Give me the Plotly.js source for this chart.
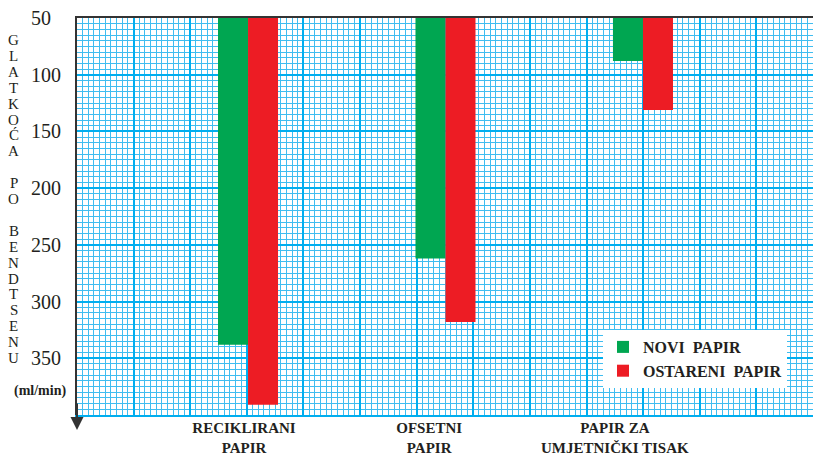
<!DOCTYPE html>
<html>
<head>
<meta charset="utf-8">
<script src="https://cdn.plot.ly/plotly-3.0.1.min.js"></script>
<style>html,body{margin:0;padding:0;background:#fff;}#chart{width:820px;height:467px;}</style>
</head>
<body>
<div id="chart"></div>
<script>
// ---- data ----
const categories = ["RECIKLIRANI<br>PAPIR", "OFSETNI<br>PAPIR", "PAPIR ZA<br>UMJETNIČKI TISAK"];
const seriesNames = ["NOVI\u00a0\u00a0PAPIR", "OSTARENI\u00a0\u00a0PAPIR"];
const noviPapir = [338, 262, 88];
const ostareniPapir = [391, 318, 131];
const yTickVals = [50, 100, 150, 200, 250, 300, 350];
const yTickText = ["50\u2007", "100", "150", "200", "250", "300", "350"];
const yTitle = "GLATKOĆA PO BENDTSENU";
const yUnit = "(ml/min)";

// ---- style ----
const serif = "'Liberation Serif', 'Times New Roman', serif";
const ink = "#231f20";
const gridBlue = "#00aeef";
const colors = ["#00a651", "#ed1c24"];

const traces = [
  {type: "bar", name: seriesNames[0], x: categories, y: noviPapir,
   marker: {color: colors[0]}, xaxis: "x", yaxis: "y", legendgroup: "a"},
  {type: "bar", name: seriesNames[1], x: categories, y: ostareniPapir,
   marker: {color: colors[1]}, xaxis: "x", yaxis: "y", legendgroup: "b"},
  // empty helper traces so the overlay axes (grid / labels) are drawn
  {type: "scatter", mode: "markers", x: [], y: [], xaxis: "x2", yaxis: "y",
   showlegend: false, hoverinfo: "skip"},
  {type: "scatter", mode: "markers", x: [], y: [], xaxis: "x3", yaxis: "y",
   showlegend: false, hoverinfo: "skip"}
];

// vertical stacked y title letters
const annotations = [];
const letters = yTitle.split("");
letters.forEach((ch, i) => {
  if (ch === " ") return;
  const py = 40 + i * 15.9;
  annotations.push({
    xref: "paper", yref: "paper", x: (14 - 77) / 736, y: (415 - py) / 397,
    xanchor: "center", yanchor: "middle", showarrow: false, text: ch,
    font: {family: serif, size: 15, color: ink}
  });
});
annotations.push({
  xref: "paper", yref: "paper", x: (40 - 77) / 736, y: (415 - 391) / 397,
  xanchor: "center", yanchor: "middle", showarrow: false, text: "<b>" + yUnit + "</b>",
  font: {family: serif, size: 14, color: ink}
});
// axis arrow
annotations.push({
  xref: "paper", yref: "paper", x: 0, y: (415 - 430) / 397, ax: 0, ay: -28,
  showarrow: true, arrowhead: 2, arrowsize: 1.3, arrowwidth: 2, arrowcolor: "#333333", text: ""
});

const layout = {
  width: 820, height: 467,
  margin: {l: 77, r: 7, t: 18, b: 52},
  paper_bgcolor: "#ffffff", plot_bgcolor: "#ffffff",
  barmode: "group", bargap: 0.696, bargroupgap: 0,
  showlegend: true,
  legend: {
    x: (603 - 77) / 736, y: (415 - 330) / 397, xanchor: "left", yanchor: "top",
    bgcolor: "#ffffff", borderwidth: 0, traceorder: "grouped", tracegroupgap: 0,
    font: {family: serif, size: 16, color: ink, weight: "bold"}
  },
  xaxis: {
    type: "category", range: [-0.866, 2.861], side: "top",
    showgrid: false, showticklabels: false, ticks: "", zeroline: false,
    showline: true, linecolor: "#333333", linewidth: 2
  },
  xaxis2: {
    overlaying: "x", anchor: "y", type: "linear", range: [0, 13], side: "bottom",
    showticklabels: false, ticks: "", zeroline: false,
    showgrid: true, tick0: 0, dtick: 1, gridcolor: gridBlue, gridwidth: 2,
    minor: {showgrid: true, tick0: 0, dtick: 0.1, gridcolor: "#3fbdf0", gridwidth: 1},
    showline: true, linecolor: gridBlue, linewidth: 2
  },
  xaxis3: {
    overlaying: "x", anchor: "y", type: "linear", range: [0, 13], side: "bottom",
    showgrid: false, zeroline: false, ticks: "",
    tickmode: "array", tickvals: [2.95, 6.22, 9.5], ticktext: categories,
    ticklabelstandoff: 2,
    tickfont: {family: serif, size: 15, color: ink, weight: "bold"}
  },
  yaxis: {
    range: [400, 50], zeroline: false,
    tickmode: "array", tickvals: yTickVals, ticktext: yTickText,
    ticks: "", ticklabelstandoff: 10,
    tickfont: {family: serif, size: 20, color: ink},
    showgrid: true, gridcolor: gridBlue, gridwidth: 2,
    minor: {showgrid: true, tick0: 0, dtick: 5, gridcolor: "#3fbdf0", gridwidth: 1},
    showline: true, linecolor: "#333333", linewidth: 2
  },
  annotations: annotations
};

Plotly.newPlot("chart", traces, layout, {displayModeBar: false, staticPlot: true});
</script>
</body>
</html>
